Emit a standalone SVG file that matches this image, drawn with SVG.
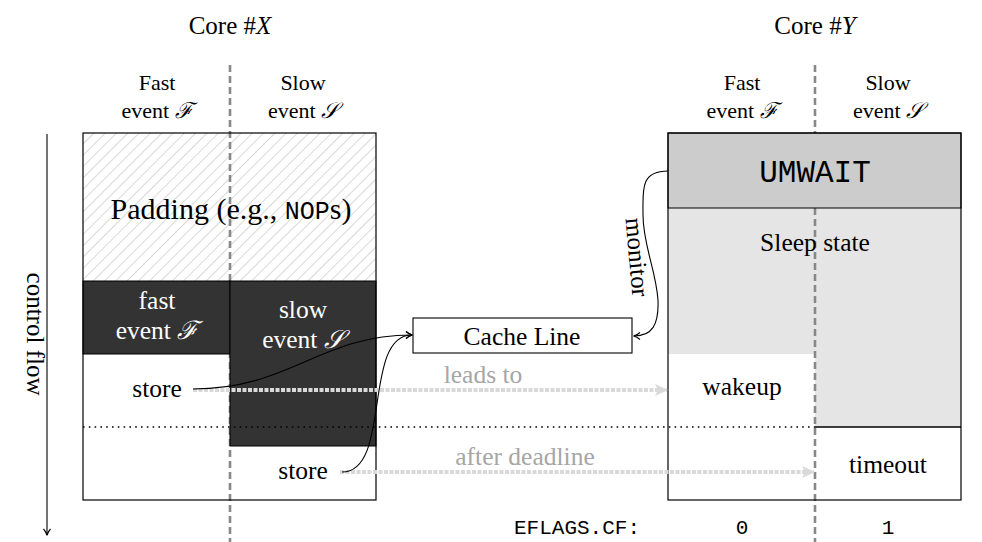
<svg xmlns="http://www.w3.org/2000/svg" width="982" height="542" viewBox="0 0 982 542">
<style>
  text { font-family: "Liberation Serif", "DejaVu Serif", serif; fill: #000; }
  .h { font-size: 22px; text-anchor: middle; }
  .core { font-size: 25px; text-anchor: middle; }
  .c { font-size: 25.5px; text-anchor: middle; }
  .w { fill: #fff; }
  .g { fill: #a6a6a6; }
  .mono { font-family: "Liberation Mono", "DejaVu Sans Mono", monospace; }
  .box { fill: none; stroke: #000; stroke-width: 1.2; }
  .div { stroke: #888; stroke-width: 2.6; stroke-dasharray: 7 4; fill: none; }
  .blk { fill: none; stroke: #000; stroke-width: 1.1; marker-end: url(#tip); }
  .gray { fill: none; stroke: #d9d9d9; stroke-width: 4; stroke-dasharray: 4 1.5; marker-end: url(#gtip); }
</style>
<defs>
  <pattern id="hatch" patternUnits="userSpaceOnUse" width="8" height="8" patternTransform="rotate(45)">
    <rect width="8" height="8" fill="#fff"/>
    <line x1="0" y1="0" x2="0" y2="8" stroke="#c4c4c4" stroke-width="1.3"/>
  </pattern>
  <marker id="tip" markerWidth="10" markerHeight="10" refX="8" refY="5" orient="auto" markerUnits="userSpaceOnUse">
    <path d="M2,1.5 Q5,4.2 8.5,5 Q5,5.8 2,8.5" fill="none" stroke="#000" stroke-width="1.1"/>
  </marker>
  <marker id="gtip" markerWidth="16" markerHeight="16" refX="13" refY="8" orient="auto" markerUnits="userSpaceOnUse">
    <path d="M1,2 L14,8 L1,14 L4,8 Z" fill="#d9d9d9"/>
  </marker>
  <marker id="down" markerWidth="10" markerHeight="10" refX="5" refY="9" orient="0" markerUnits="userSpaceOnUse">
    <path d="M1.5,3 Q4.3,6 5,9.5 Q5.7,6 8.5,3" fill="none" stroke="#000" stroke-width="1.1"/>
  </marker>
</defs>

<!-- headers -->
<g id="headers">
  <text class="core" x="230" y="34">Core #<tspan font-style="italic">X</tspan></text>
  <text class="core" x="815" y="34">Core #<tspan font-style="italic">Y</tspan></text>
  <text class="h" x="157" y="90">Fast</text>
  <text class="h" x="157" y="118">event <tspan font-style="italic">ℱ</tspan></text>
  <text class="h" x="303" y="90">Slow</text>
  <text class="h" x="303" y="118">event <tspan font-style="italic">𝒮</tspan></text>
  <text class="h" x="742" y="90">Fast</text>
  <text class="h" x="742" y="118">event <tspan font-style="italic">ℱ</tspan></text>
  <text class="h" x="888" y="90">Slow</text>
  <text class="h" x="888" y="118">event <tspan font-style="italic">𝒮</tspan></text>
</g>

<!-- Core X -->
<g id="coreX">
  <rect x="83" y="133" width="293" height="367" fill="#fff"/>
  <rect x="83" y="133" width="293" height="148" fill="url(#hatch)"/>
  <line class="div" x1="230" y1="65" x2="230" y2="542"/>
  <text x="231" y="219" font-size="30" text-anchor="middle">Padding (e.g., <tspan class="mono" font-size="25">NOP</tspan>s)</text>
</g>

<g id="fastX">
  <rect x="83" y="281" width="147" height="73" fill="#333" stroke="#000" stroke-width="1"/>
  <text class="c w" x="157" y="309">fast</text>
  <text class="c w" x="157" y="339">event <tspan font-style="italic">ℱ</tspan></text>
</g>

<g id="slowX">
  <rect x="230" y="281" width="146" height="165" fill="#333" stroke="#000" stroke-width="1"/>
  <text class="c w" x="303" y="318">slow</text>
  <text class="c w" x="303" y="348">event <tspan font-style="italic">𝒮</tspan></text>
</g>

<g id="storeX1"><text class="c" x="157" y="397">store</text></g>
<g id="storeX2"><text class="c" x="303" y="479">store</text></g>

<rect class="box" x="83" y="133" width="293" height="367"/>

<!-- Core Y -->
<g id="coreY">
  <rect x="668" y="133" width="293" height="367" fill="#fff"/>
  <rect x="668" y="208" width="293" height="146" fill="#e5e5e5"/>
  <rect x="815" y="354" width="146" height="73" fill="#e5e5e5"/>
  <line class="div" x1="815" y1="65" x2="815" y2="542"/>
  <line x1="815" y1="427" x2="961" y2="427" stroke="#000" stroke-width="1.6"/>
</g>
<g id="umwait">
  <rect x="668" y="133" width="293" height="75" fill="#ccc" stroke="#000" stroke-width="1"/>
  <text class="mono" x="815" y="182" font-size="31" text-anchor="middle">UMWAIT</text>
</g>
<g id="sleep"><text class="c" x="815" y="251">Sleep state</text></g>
<g id="wakeup"><text class="c" x="742" y="395">wakeup</text></g>
<g id="timeout"><text class="c" x="888" y="473">timeout</text></g>
<rect class="box" x="668" y="133" width="293" height="367"/>

<g id="cacheline">
  <rect x="413" y="318" width="219" height="35" fill="#fff" stroke="#000" stroke-width="1.1"/>
  <text class="c" x="522" y="345">Cache Line</text>
</g>

<!-- deadline separator -->
<line x1="83" y1="427" x2="815" y2="427" stroke="#000" stroke-width="1.6" stroke-dasharray="1.6 4.2"/>

<!-- connectors -->
<g id="connectors">
  <path class="gray" d="M193,390 L667,390"/>
  <text class="c g" x="483" y="383">leads to</text>
  <path class="gray" d="M340,472 L814,472"/>
  <text class="c g" x="525" y="465">after deadline</text>

  <path class="blk" d="M193,389 C290,389 320,335 412,335"/>
  <path class="blk" d="M342,472 C392,472 362,335 412,335"/>
  <path class="blk" d="M668,171 C640,171 643,190 643,215 C643,245 656,270 658,300 C659,325 652,336 634,336"/>
  <text x="629" y="258" font-size="25" text-anchor="middle" transform="rotate(85 629 258)">monitor</text>

  <line x1="47" y1="134" x2="47" y2="535" stroke="#000" stroke-width="1.1" marker-end="url(#down)"/>
  <text x="27" y="334" font-size="25" text-anchor="middle" transform="rotate(90 27 334)">control flow</text>
</g>

<g id="eflags">
  <text class="mono" x="640" y="534" font-size="21" text-anchor="end">EFLAGS.CF:</text>
  <text class="mono" x="742" y="534" font-size="21" text-anchor="middle">0</text>
  <text class="mono" x="888" y="534" font-size="21" text-anchor="middle">1</text>
</g>
</svg>
